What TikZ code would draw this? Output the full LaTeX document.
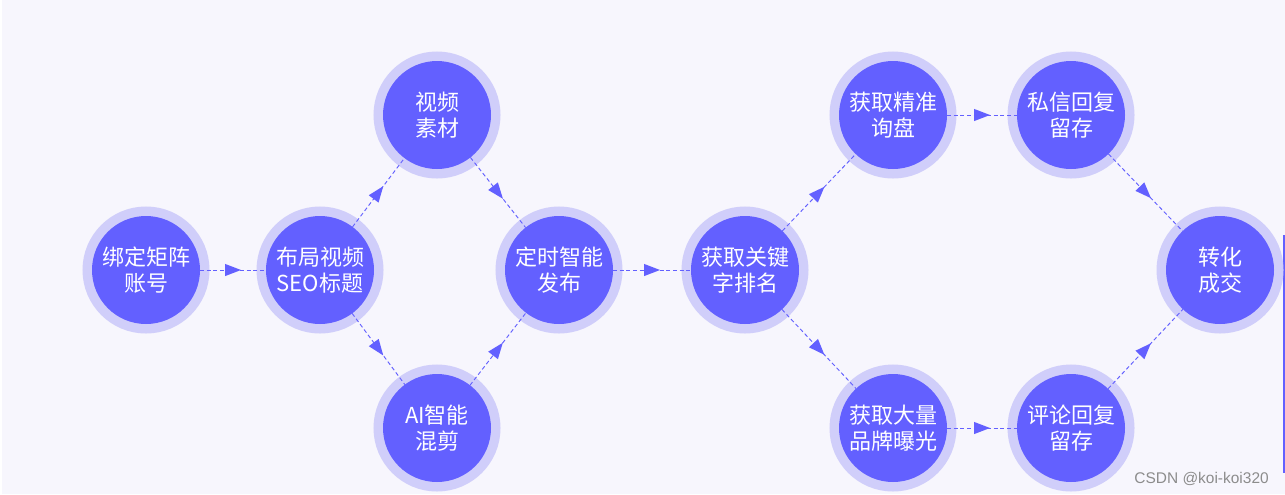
\documentclass[tikz,border=0pt]{standalone}
\usepackage{fontspec}
\setmainfont{Noto Sans CJK SC}
\newfontfamily\marcafont{Liberation Sans}
\usepackage{tikz}
\usetikzlibrary{decorations.markings}
\definecolor{HubViolet}{RGB}{99, 96, 255}
\definecolor{RingLavender}{RGB}{208, 206, 250}
\definecolor{PaperLilac}{RGB}{247, 246, 253}
\definecolor{MarkGrey}{RGB}{140, 140, 140}
\tikzset{
    hub/.style={circle, fill=HubViolet, text=white, minimum size=81pt, inner sep=0pt, outer sep=0pt,
        align=center, font=\fontsize{16.5pt}{19.5pt}\selectfont,
        preaction={draw=RingLavender, line width=14.25pt}},
    flow/.style={draw=HubViolet, line width=0.7pt, dash pattern=on 3pt off 2pt, postaction={decorate},
        decoration={markings, mark=at position 0.5 with {\fill[HubViolet] (6pt,0) -- (-6pt,4.6pt) -- (-6pt,-4.6pt) -- cycle;}}}
}
\begin{document}
\begin{tikzpicture}[x=0.75pt, y=-0.75pt]
    % Fondo
    \useasboundingbox (0,0) rectangle (1285,494);
    \fill[white] (0,0) rectangle (1285,494);
    \fill[PaperLilac] (2,0) rectangle (1285,494);
    \draw[HubViolet, line width=1.5pt] (1284,235) -- (1284,473);

    % Nodos
    \node[hub] (bind) at (146,270) {绑定矩阵\\账号};
    \node[hub] (seo) at (320,270) {布局视频\\SEO标题};
    \node[hub] (clip) at (437,115) {视频\\素材};
    \node[hub] (mix) at (437,428) {AI智能\\混剪};
    \node[hub] (post) at (559,270) {定时智能\\发布};
    \node[hub] (rank) at (745,270) {获取关键\\字排名};
    \node[hub] (lead) at (893,115) {获取精准\\询盘};
    \node[hub] (expo) at (893,428) {获取大量\\品牌曝光};
    \node[hub] (dm) at (1071,115) {私信回复\\留存};
    \node[hub] (reply) at (1071,428) {评论回复\\留存};
    \node[hub] (deal) at (1220,270) {转化\\成交};

    % Flechas
    \draw[flow] (bind) -- (seo);
    \draw[flow] (seo) -- (clip);
    \draw[flow] (seo) -- (mix);
    \draw[flow] (clip) -- (post);
    \draw[flow] (mix) -- (post);
    \draw[flow] (post) -- (rank);
    \draw[flow] (rank) -- (lead);
    \draw[flow] (rank) -- (expo);
    \draw[flow] (lead) -- (dm);
    \draw[flow] (expo) -- (reply);
    \draw[flow] (dm) -- (deal);
    \draw[flow] (reply) -- (deal);

    % Marca
    \node[anchor=base east, inner sep=0pt, text=MarkGrey, font=\marcafont\fontsize{11.6pt}{13pt}\selectfont] (mark) at (1269,483) {CSDN @koi-koi320};
\end{tikzpicture}
\end{document}
